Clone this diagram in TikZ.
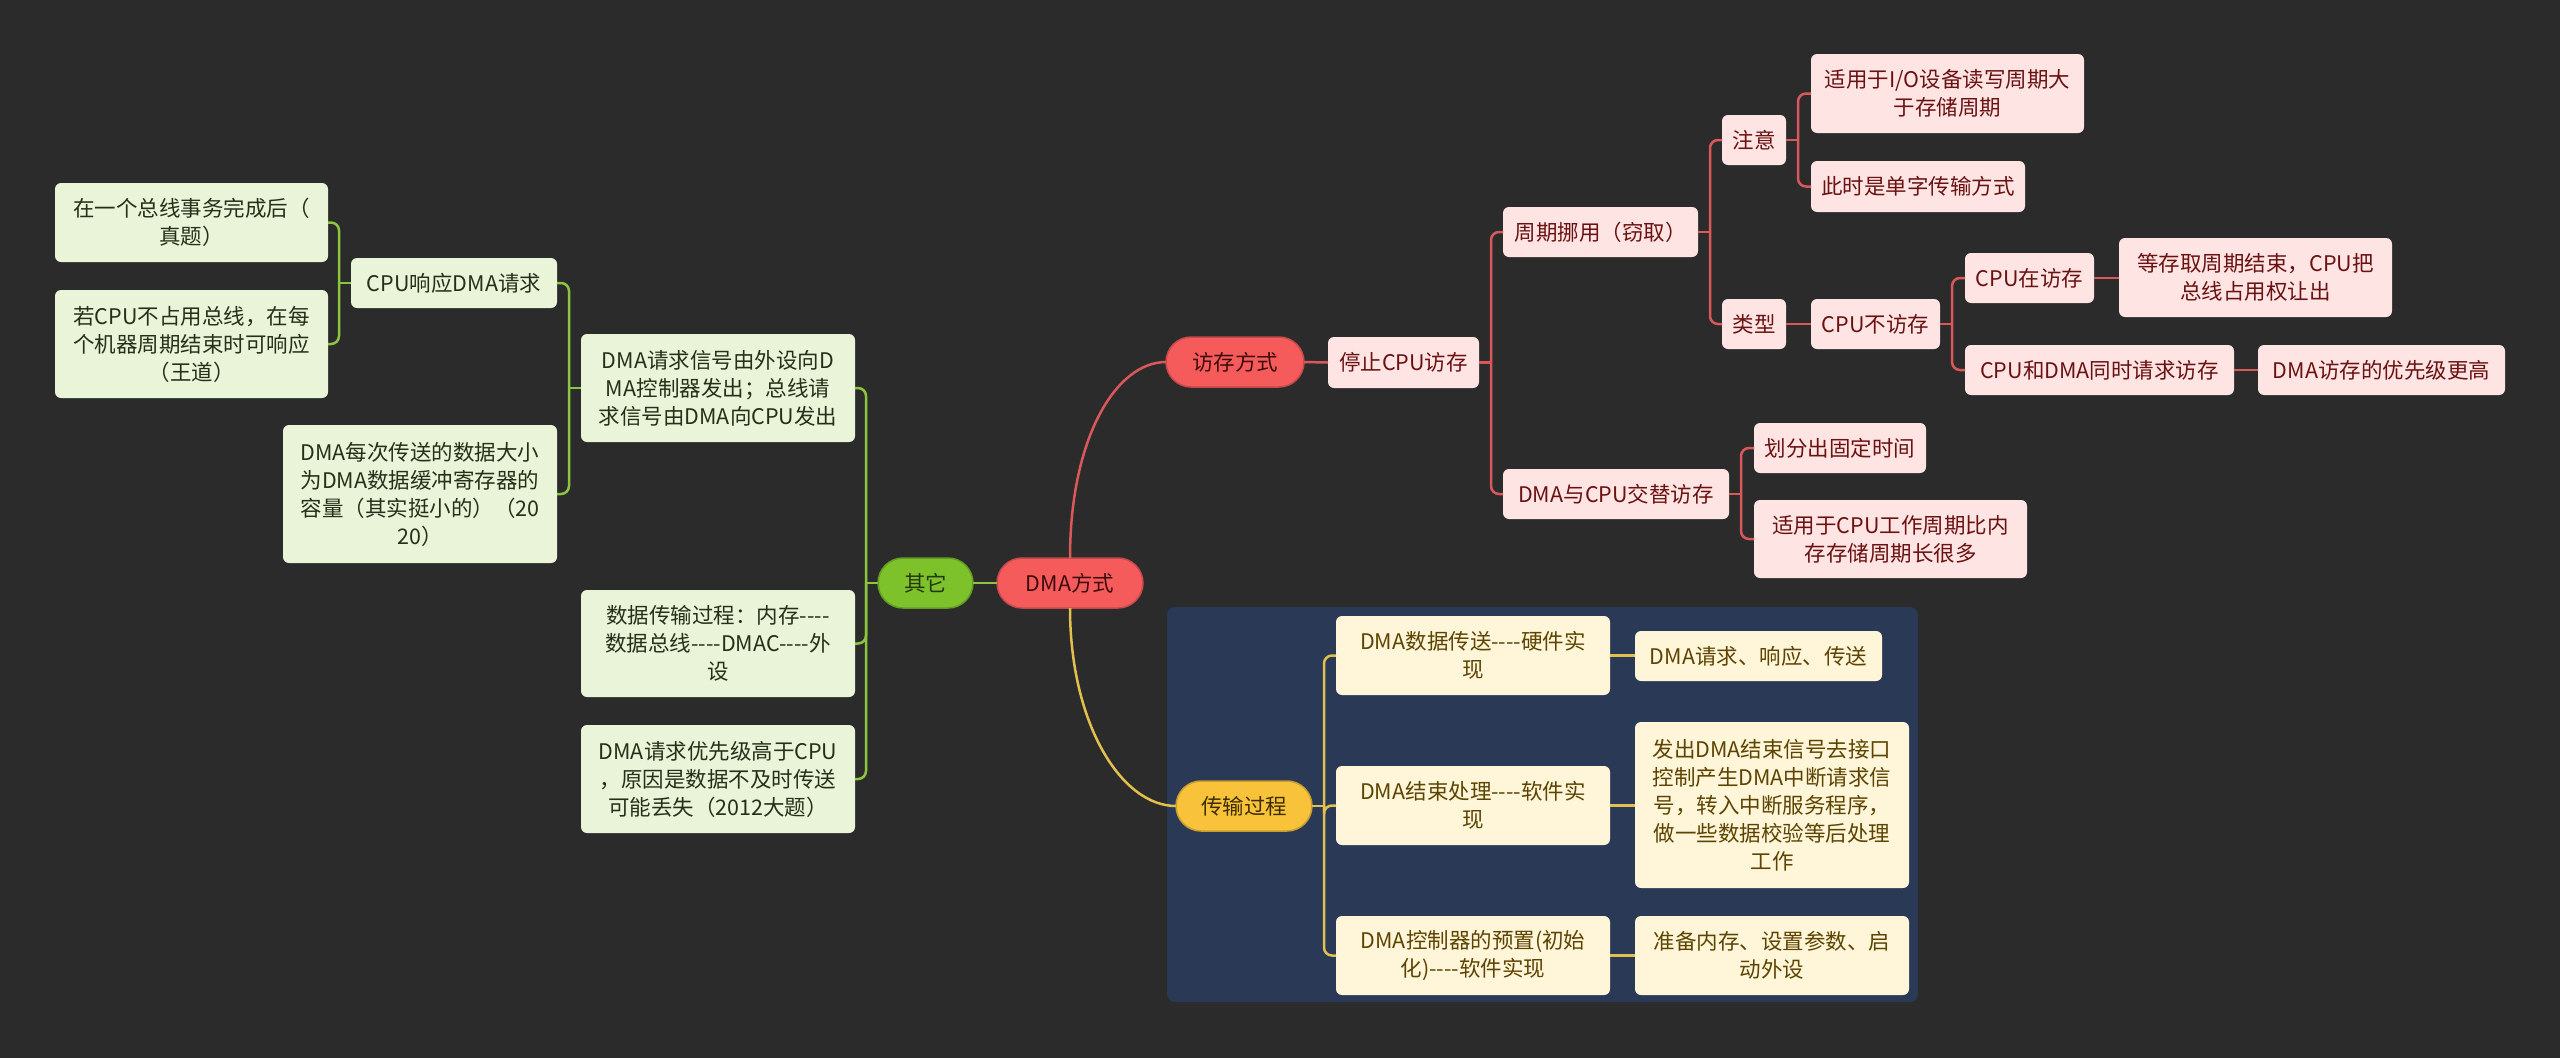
\documentclass[tikz,border=0pt]{standalone}
\usepackage{fontspec}
\setmainfont{Noto Sans CJK SC}[Ligatures=TeXOff]
\usepackage{xcolor}
\usepackage{tikz}
\usetikzlibrary{calc}
\definecolor{figBg}{HTML}{2B2B2B}
\definecolor{figRegion}{HTML}{2A3A56}
\definecolor{figRoot}{HTML}{F65B5C}
\definecolor{figRootText}{HTML}{3D0B0B}
\definecolor{figPink}{HTML}{FFE4E4}
\definecolor{figPinkText}{HTML}{6A1212}
\definecolor{figRedLine}{HTML}{D9595B}
\definecolor{figGreenMain}{HTML}{7DC12B}
\definecolor{figGreenText}{HTML}{24380B}
\definecolor{figMint}{HTML}{E9F4D8}
\definecolor{figMintText}{HTML}{25301A}
\definecolor{figGreenLine}{HTML}{8CC63F}
\definecolor{figGold}{HTML}{F8C33B}
\definecolor{figGoldText}{HTML}{3D2C00}
\definecolor{figCream}{HTML}{FFF6DA}
\definecolor{figCreamText}{HTML}{5C4300}
\definecolor{figGoldLine}{HTML}{E2C04E}

\begin{document}
\begin{tikzpicture}[
  x=1pt, y=-1pt,
  every node/.style={font=\fontsize{21.5}{28}\selectfont, align=center, inner sep=3pt, outer sep=0pt},
  pillnode/.style={rectangle, rounded corners=25pt, fill=#1, draw=#1!80!black,
    line width=1.5pt, minimum height=50pt},
  leafbox/.style={rectangle, rounded corners=6pt, fill=#1},
  leafgreen/.style={leafbox=figMint, text=figMintText},
  leafred/.style={leafbox=figPink, text=figPinkText},
  leafgold/.style={leafbox=figCream, text=figCreamText},
  linkgreen/.style={draw=figGreenLine, line width=2.5pt, rounded corners=8pt},
  linkred/.style={draw=figRedLine, line width=2.5pt, rounded corners=8pt},
  linkgold/.style={draw=figGoldLine, line width=2.5pt, rounded corners=8pt},
]

\useasboundingbox (0,0) rectangle (2560,1058);
\fill[figBg] (0,0) rectangle (2560,1058);

% panel behind the transfer branch
\fill[figRegion, rounded corners=8pt] (1167,607) rectangle (1918,1002);

% ======= Root =======
\node[pillnode=figRoot, text=figRootText, minimum width=146pt, anchor=north west] (root) at (997,558) {DMA方式};

% ======= Left branch: 其它 =======
\node[pillnode=figGreenMain, text=figGreenText, minimum width=95pt, anchor=north west] (qt) at (878,558) {其它};

\node[leafgreen, minimum width=274pt, minimum height=108pt, anchor=north west] (g5) at (581,334)
  {DMA请求信号由外设向D\\MA控制器发出；总线请\\求信号由DMA向CPU发出};
\node[leafgreen, minimum width=274pt, minimum height=107pt, anchor=north west] (g6) at (581,590)
  {数据传输过程：内存----\\数据总线----DMAC----外\\设};
\node[leafgreen, minimum width=274pt, minimum height=108pt, anchor=north west] (g7) at (581,725)
  {DMA请求优先级高于CPU\\，原因是数据不及时传送\\可能丢失（2012大题）};

\node[leafgreen, minimum width=206pt, minimum height=50pt, anchor=north west] (g3) at (351,258)
  {CPU响应DMA请求};
\node[leafgreen, minimum width=274pt, minimum height=138pt, anchor=north west] (g4) at (283,425)
  {DMA每次传送的数据大小\\为DMA数据缓冲寄存器的\\容量（其实挺小的）（20\\20）};

\node[leafgreen, minimum width=273pt, minimum height=79pt, anchor=north west] (g1) at (55,183)
  {在一个总线事务完成后（\\真题）};
\node[leafgreen, minimum width=273pt, minimum height=108pt, anchor=north west] (g2) at (55,290)
  {若CPU不占用总线，在每\\个机器周期结束时可响应\\（王道）};

\draw[linkgreen] (root.west) -- (qt.east);
\coordinate (qtT) at ($(qt.west)+(-12,0)$);
\draw[linkgreen] (qt.west) -- (qtT);
\foreach \c in {g5,g6,g7}
  \draw[linkgreen] (qtT) |- (\c.east);
\coordinate (g5T) at ($(g5.west)+(-12,0)$);
\draw[linkgreen] (g5.west) -- (g5T);
\foreach \c in {g3,g4}
  \draw[linkgreen] (g5T) |- (\c.east);
\coordinate (g3T) at ($(g3.west)+(-12,0)$);
\draw[linkgreen] (g3.west) -- (g3T);
\foreach \c in {g1,g2}
  \draw[linkgreen] (g3T) |- (\c.east);

% ======= Upper right branch: 访存方式 =======
\node[pillnode=figRoot, text=figRootText, minimum width=138pt, anchor=north west] (fc) at (1166,337) {访存方式};
\node[leafred, minimum width=151pt, minimum height=51pt, anchor=north west] (tz) at (1328,337) {停止CPU访存};
\node[leafred, minimum width=195pt, minimum height=50pt, anchor=north west] (zq) at (1503,207) {周期挪用（窃取）};
\node[leafred, minimum width=226pt, minimum height=50pt, anchor=north west] (jt) at (1503,469) {DMA与CPU交替访存};
\node[leafred, minimum width=64pt, minimum height=50pt, anchor=north west] (zy) at (1722,115) {注意};
\node[leafred, minimum width=64pt, minimum height=50pt, anchor=north west] (lx) at (1722,299) {类型};
\node[leafred, minimum width=273pt, minimum height=79pt, anchor=north west] (sy1) at (1811,54)
  {适用于I/O设备读写周期大\\于存储周期};
\node[leafred, minimum width=214pt, minimum height=51pt, anchor=north west] (sy2) at (1811,161) {此时是单字传输方式};
\node[leafred, minimum width=129pt, minimum height=50pt, anchor=north west] (bf) at (1811,299) {CPU不访存};
\node[leafred, minimum width=129pt, minimum height=50pt, anchor=north west] (zf) at (1965,253) {CPU在访存};
\node[leafred, minimum width=273pt, minimum height=79pt, anchor=north west] (dc) at (2119,238)
  {等存取周期结束，CPU把\\总线占用权让出};
\node[leafred, minimum width=269pt, minimum height=50pt, anchor=north west] (ts) at (1965,345) {CPU和DMA同时请求访存};
\node[leafred, minimum width=247pt, minimum height=50pt, anchor=north west] (yx) at (2258,345) {DMA访存的优先级更高};
\node[leafred, minimum width=172pt, minimum height=50pt, anchor=north west] (hf) at (1754,423) {划分出固定时间};
\node[leafred, minimum width=273pt, minimum height=78pt, anchor=north west] (sy3) at (1754,500)
  {适用于CPU工作周期比内\\存存储周期长很多};

\draw[linkred] (root.north) .. controls +(0,-120) and +(-50,0) .. (fc.west);
\draw[linkred] (fc.east) -- (tz.west);
\coordinate (tzT) at ($(tz.east)+(12,0)$);
\draw[linkred] (tz.east) -- (tzT);
\foreach \c in {zq,jt}
  \draw[linkred] (tzT) |- (\c.west);
\coordinate (zqT) at ($(zq.east)+(12,0)$);
\draw[linkred] (zq.east) -- (zqT);
\foreach \c in {zy,lx}
  \draw[linkred] (zqT) |- (\c.west);
\coordinate (zyT) at ($(zy.east)+(12,0)$);
\draw[linkred] (zy.east) -- (zyT);
\foreach \c in {sy1,sy2}
  \draw[linkred] (zyT) |- (\c.west);
\draw[linkred] (lx.east) -- (bf.west);
\coordinate (bfT) at ($(bf.east)+(12,0)$);
\draw[linkred] (bf.east) -- (bfT);
\foreach \c in {zf,ts}
  \draw[linkred] (bfT) |- (\c.west);
\draw[linkred] (zf.east) -- (zf.east -| dc.west);
\draw[linkred] (ts.east) -- (yx.west);
\coordinate (jtT) at ($(jt.east)+(12,0)$);
\draw[linkred] (jt.east) -- (jtT);
\foreach \c in {hf,sy3}
  \draw[linkred] (jtT) |- (\c.west);

% ======= Lower right branch: 传输过程 =======
\node[pillnode=figGold, text=figGoldText, minimum width=136pt, anchor=north west] (cs) at (1176,781) {传输过程};
\node[leafgold, minimum width=274pt, minimum height=79pt, anchor=north west] (y1) at (1336,616)
  {DMA数据传送----硬件实\\现};
\node[leafgold, minimum width=274pt, minimum height=79pt, anchor=north west] (y2) at (1336,766)
  {DMA结束处理----软件实\\现};
\node[leafgold, minimum width=274pt, minimum height=79pt, anchor=north west] (y3) at (1336,916)
  {DMA控制器的预置(初始\\化)----软件实现};
\node[leafgold, minimum width=247pt, minimum height=50pt, anchor=north west] (z1) at (1635,631)
  {DMA请求、响应、传送};
\node[leafgold, minimum width=274pt, minimum height=166pt, anchor=north west] (z2) at (1635,722)
  {发出DMA结束信号去接口\\控制产生DMA中断请求信\\号，转入中断服务程序，\\做一些数据校验等后处理\\工作};
\node[leafgold, minimum width=274pt, minimum height=79pt, anchor=north west] (z3) at (1635,916)
  {准备内存、设置参数、启\\动外设};

\draw[linkgold] (root.south) .. controls +(0,115) and +(-55,0) .. (cs.west);
\coordinate (csT) at ($(cs.east)+(12,0)$);
\draw[linkgold] (cs.east) -- (csT);
\foreach \c in {y1,y2,y3}
  \draw[linkgold] (csT) |- (\c.west);
\foreach \a/\b in {y1/z1,y2/z2,y3/z3}
  \draw[linkgold] (\a.east) -- (\a.east -| \b.west);

\end{tikzpicture}
\end{document}
